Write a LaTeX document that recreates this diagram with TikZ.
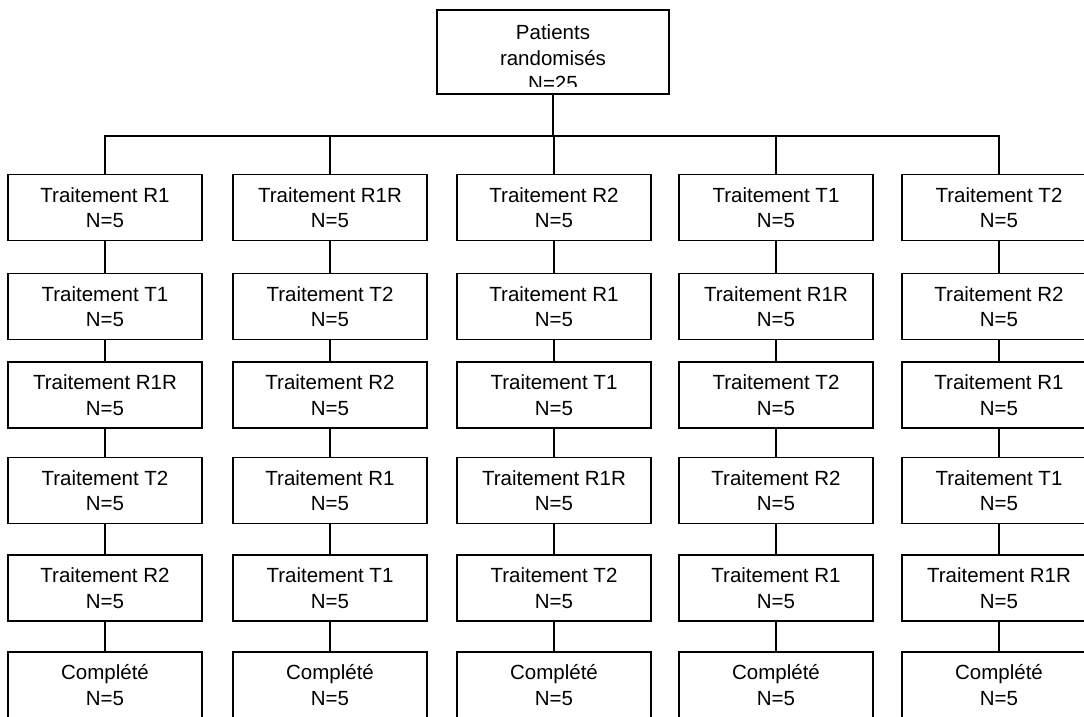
\documentclass[tikz,border=0pt]{standalone}
\usepackage{fontspec}
\setmainfont{Liberation Sans}
\usepackage{tikz}
\usetikzlibrary{positioning}
\usetikzlibrary{calc}
\newcommand\boxfont{\fontsize{20.5}{25.5}\selectfont}
\tikzset{every picture/.style={line width=1.5pt}}

\begin{document}
\begin{tikzpicture}[x=1pt,y=-1pt,
every node/.style={font=\boxfont},
box/.style={draw, fill=white, minimum width=194pt, minimum height=66pt, inner sep=0pt, align=center}]

\clip (0,0) rectangle (1084,717);

% top box, text cut inside the frame
\node[draw, minimum width=232pt, minimum height=84pt, inner sep=0pt] (top) at (553,52) {};
\begin{scope}
\clip (top.north west) rectangle ($(top.south east)+(0,-8)$);
\node[align=center] (toptext) at (553,58) {Patients\\randomisés\\N=25};
\end{scope}

\coordinate (j) at (553,136);
\draw (top.south) -- (j);

\foreach \col/\x/\pa/\pb/\pc/\pd/\pe in {1/105/R1/T1/R1R/T2/R2, 2/330/R1R/T2/R2/R1/T1, 3/554/R2/R1/T1/R1R/T2, 4/776/T1/R1R/T2/R2/R1, 5/999/T2/R2/R1/T1/R1R}
{
 \node[box] (c\col-1) at (\x,207.5) {Traitement \pa\\N=5};
 \node[box] (c\col-2) at (\x,306.5) {Traitement \pb\\N=5};
 \node[box] (c\col-3) at (\x,395) {Traitement \pc\\N=5};
 \node[box] (c\col-4) at (\x,490.5) {Traitement \pd\\N=5};
 \node[box] (c\col-5) at (\x,588) {Traitement \pe\\N=5};
 \node[box] (c\col-6) at (\x,685) {Complété\\N=5};
 \draw (j) -| (c\col-1.north);
 \foreach \r [count=\s from 2] in {1,...,5}
 { \draw (c\col-\r.south) -- (c\col-\s.north); }
}

\end{tikzpicture}
\end{document}
